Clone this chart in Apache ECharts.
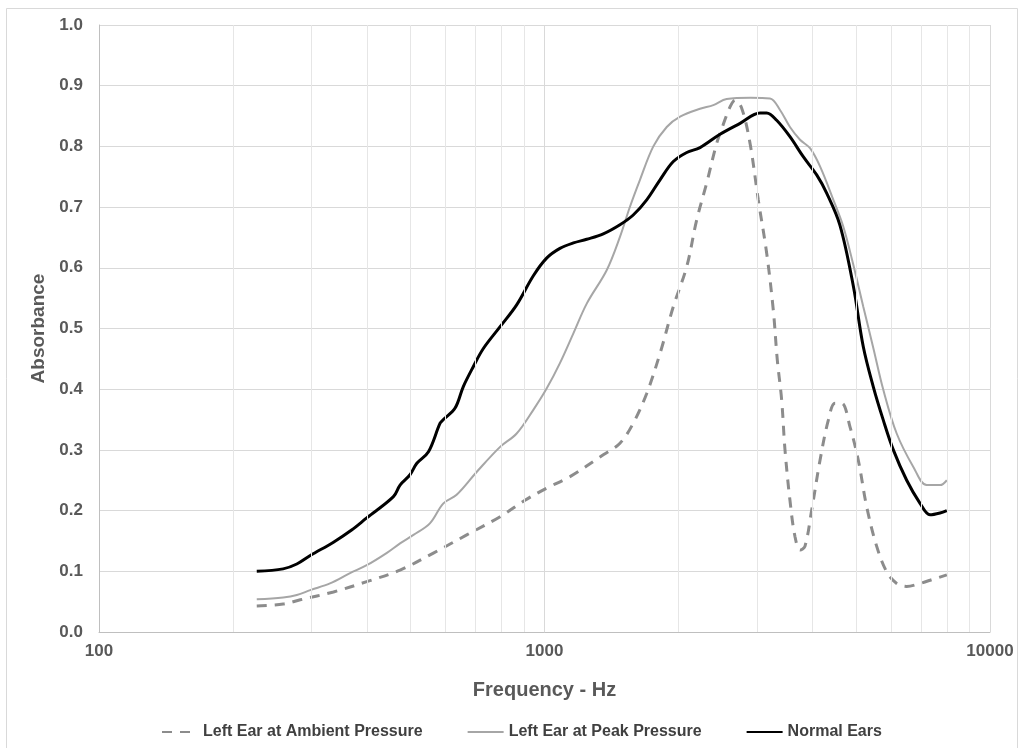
<!DOCTYPE html>
<html>
<head>
<meta charset="utf-8">
<script src="https://cdn.jsdelivr.net/npm/echarts@6/dist/echarts.min.js"></script>
<style>html,body{margin:0;padding:0;background:#fff}#c{width:1024px;height:748px}</style>
</head>
<body>
<div id="c"></div>
<script>
// Frequency (Hz) / absorbance pairs
const normalEars = [[226,0.100],[259,0.104],[278,0.112],[298,0.126],[336,0.148],[369,0.168],[399,0.188],[458,0.223],[474,0.242],[499,0.259],[517,0.278],[549,0.297],[583,0.344],[593,0.350],[630,0.369],[657,0.404],[692,0.437],[729,0.467],[795,0.503],[866,0.539],[944,0.587],[1011,0.616],[1083,0.632],[1161,0.641],[1244,0.647],[1355,0.656],[1477,0.671],[1582,0.687],[1696,0.712],[1817,0.745],[1946,0.775],[2086,0.790],[2234,0.798],[2477,0.820],[2748,0.838],[3046,0.855],[3153,0.855],[3320,0.843],[3556,0.816],[3809,0.783],[4083,0.753],[4299,0.723],[4605,0.670],[4934,0.570],[5195,0.470],[5471,0.404],[5761,0.349],[6067,0.300],[6501,0.250],[6966,0.212],[7334,0.193],[7724,0.196],[8000,0.200]];
const peakPressure = [[226,0.054],[259,0.057],[278,0.061],[298,0.069],[330,0.080],[366,0.097],[399,0.110],[442,0.130],[474,0.146],[508,0.160],[553,0.179],[593,0.212],[635,0.226],[705,0.264],[795,0.305],[866,0.327],[944,0.366],[1011,0.401],[1083,0.443],[1161,0.492],[1244,0.541],[1379,0.596],[1477,0.651],[1556,0.701],[1638,0.745],[1755,0.800],[1881,0.832],[2015,0.849],[2234,0.862],[2393,0.868],[2564,0.878],[2900,0.880],[3207,0.879],[3378,0.860],[3556,0.832],[3746,0.811],[3945,0.797],[4154,0.767],[4450,0.712],[4684,0.668],[4934,0.605],[5195,0.536],[5471,0.468],[5761,0.399],[6174,0.327],[6729,0.272],[7211,0.242],[7724,0.242],[8000,0.250]];
const ambientPressure = [[226,0.043],[259,0.046],[283,0.053],[336,0.066],[399,0.083],[474,0.102],[563,0.130],[669,0.160],[795,0.190],[904,0.217],[1011,0.237],[1141,0.256],[1355,0.292],[1477,0.311],[1582,0.344],[1696,0.393],[1817,0.459],[1946,0.536],[2086,0.602],[2196,0.679],[2313,0.740],[2435,0.805],[2516,0.835],[2609,0.865],[2677,0.876],[2771,0.863],[2893,0.805],[3019,0.712],[3153,0.624],[3263,0.530],[3331,0.448],[3407,0.382],[3466,0.300],[3556,0.217],[3650,0.157],[3746,0.135],[3842,0.141],[3979,0.201],[4154,0.283],[4336,0.349],[4488,0.377],[4646,0.377],[4850,0.338],[5063,0.283],[5288,0.206],[5568,0.141],[5864,0.099],[6174,0.080],[6501,0.075],[6966,0.080],[7459,0.087],[8000,0.094]];
const minorGrid = [200,300,400,500,600,700,800,900,2000,3000,4000,5000,6000,7000,8000,9000];
const seriesNames = ['Left Ear at Ambient Pressure','Left Ear at Peak Pressure','Normal Ears'];

const font = '"Liberation Sans", Arial, sans-serif';
const chart = echarts.init(document.getElementById('c'), null, {renderer:'canvas'});
chart.setOption({
  animation:false,
  backgroundColor:'#fff',
  graphic:[{type:'rect', shape:{x:6.5,y:8.5,width:1011,height:760}, style:{fill:'none', stroke:'#d9d9d9', lineWidth:1}, silent:true}],
  grid:{left:99, right:34, top:25, bottom:116},
  legend:{
    left:156, top:719, itemWidth:36, itemHeight:14, itemGap:44,
    itemStyle:{opacity:0},
    textStyle:{fontFamily:font, fontSize:16, fontWeight:'bold', color:'#404040'},
    data:seriesNames
  },
  xAxis:{
    type:'log', logBase:10, min:100, max:10000,
    name:'Frequency - Hz', nameLocation:'middle', nameGap:48,
    nameTextStyle:{fontFamily:font, fontSize:20, fontWeight:'bold', color:'#595959'},
    axisLine:{show:true, lineStyle:{color:'#bfbfbf', width:1}},
    axisTick:{show:false},
    axisLabel:{fontFamily:font, fontSize:17, fontWeight:'bold', color:'#595959', margin:11, formatter:v=>String(v)},
    splitLine:{show:true, lineStyle:{color:'#d9d9d9', width:1}}
  },
  yAxis:{
    type:'value', min:0, max:1, interval:0.1,
    name:'Absorbance', nameLocation:'middle', nameGap:47,
    nameTextStyle:{fontFamily:font, fontSize:19, fontWeight:'bold', color:'#595959'},
    axisLine:{show:true, lineStyle:{color:'#bfbfbf', width:1}},
    axisTick:{show:false},
    axisLabel:{fontFamily:font, fontSize:17, fontWeight:'bold', color:'#595959', margin:16, formatter:v=>v.toFixed(1)},
    splitLine:{show:true, lineStyle:{color:'#d9d9d9', width:1}}
  },
  series:[
    {type:'line', name:'_grid', data:[[100,null]], z:1, silent:true, symbol:'none',
     markLine:{silent:true, symbol:'none', animation:false, label:{show:false},
       lineStyle:{color:'#e6e6e6', type:'solid', width:1},
       data:minorGrid.map(v=>({xAxis:v}))}},
    {type:'line', name:seriesNames[0], data:ambientPressure, smooth:0.35, symbol:'none', z:3,
     lineStyle:{color:'#8c8c8c', width:3, type:[10,8]}, itemStyle:{color:'#8c8c8c'}},
    {type:'line', name:seriesNames[1], data:peakPressure, smooth:0.35, symbol:'none', z:3,
     lineStyle:{color:'#a6a6a6', width:2}, itemStyle:{color:'#a6a6a6'}},
    {type:'line', name:seriesNames[2], data:normalEars, smooth:0.35, symbol:'none', z:4,
     lineStyle:{color:'#000000', width:3}, itemStyle:{color:'#000000'}}
  ]
});
</script>
</body>
</html>
